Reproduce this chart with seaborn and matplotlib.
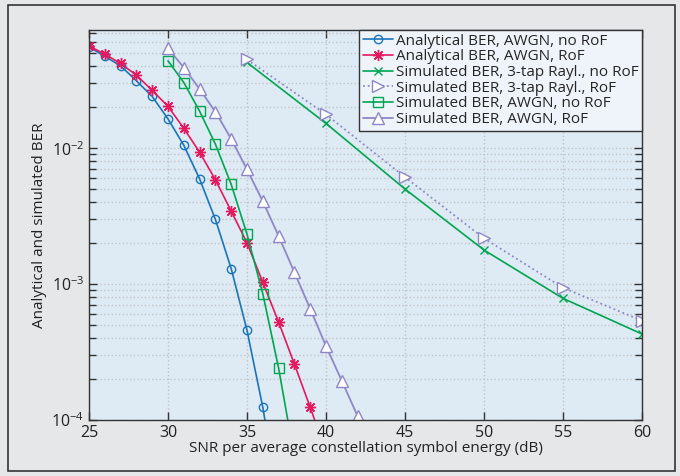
import matplotlib
matplotlib.use("Agg")
import numpy as np
import pandas as pd
import matplotlib.pyplot as plt
import seaborn as sns
from matplotlib.patches import Rectangle
from matplotlib.ticker import LogLocator, NullFormatter, MultipleLocator

# Analytical BER, AWGN, no RoF
snr_an_norof = list(range(25, 38))
ber_an_norof = [0.0556, 0.0474, 0.0403, 0.0313, 0.0240, 0.0164, 0.0105, 0.00594,
                0.00299, 0.00130, 0.000457, 0.000124, 0.000025]

# Analytical BER, AWGN, RoF
snr_an_rof = list(range(25, 41))
ber_an_rof = [0.0565, 0.0491, 0.0420, 0.0344, 0.0266, 0.0203, 0.0140, 0.00934,
              0.00585, 0.00344, 0.00201, 0.00103, 0.000526, 0.000258, 0.000124, 0.000058]

# Simulated BER, 3-tap Rayleigh
snr_ray = [35, 40, 45, 50, 55, 60]
ber_ray_norof = [0.0427, 0.0152, 0.00500, 0.00178, 0.000785, 0.000429]
ber_ray_rof = [0.0449, 0.0177, 0.00612, 0.00217, 0.000940, 0.000537]

# Simulated BER, AWGN
snr_sim_norof = list(range(30, 39))
ber_sim_norof = [0.0439, 0.0304, 0.0187, 0.0107, 0.00541, 0.00233, 0.000848,
                 0.000241, 0.000053]
snr_sim_rof = list(range(30, 43))
ber_sim_rof = [0.0541, 0.0392, 0.0272, 0.0185, 0.0117, 0.00697, 0.00406, 0.00226,
               0.00122, 0.000658, 0.000350, 0.000194, 0.000107]

labels = ["Analytical BER, AWGN, no RoF",
          "Analytical BER, AWGN, RoF",
          "Simulated BER, 3-tap Rayl., no RoF",
          "Simulated BER, 3-tap Rayl., RoF",
          "Simulated BER, AWGN, no RoF",
          "Simulated BER, AWGN, RoF"]

blue = "#1a75bc"
red = "#e5195e"
green = "#00a651"
purple = "#8e88c8"

sns.set_style("ticks")
plt.rcParams["font.family"] = ["Open Sans", "DejaVu Sans"]
plt.rcParams["mathtext.default"] = "regular"

fig = plt.figure(figsize=(6.8, 4.76), dpi=100, facecolor="#e6e7e8")
ax = fig.add_axes([89 / 680, 1 - 420 / 476, (642 - 89) / 680, (420 - 30) / 476])
ax.set_facecolor("#deeaf4")

series = [
    (snr_an_norof, ber_an_norof, labels[0], blue, "o", "none", 6, "-", 1.2),
    (snr_an_rof, ber_an_rof, labels[1], red, (8, 2, 0), red, 8, "-", 1.2),
    (snr_ray, ber_ray_norof, labels[2], green, "x", green, 6, "-", 1.2),
    (snr_ray, ber_ray_rof, labels[3], purple, ">", "white", 8, ":", 1.3),
    (snr_sim_norof, ber_sim_norof, labels[4], green, "s", "none", 7, "-", 1.2),
    (snr_sim_rof, ber_sim_rof, labels[5], purple, "^", "white", 8, "-", 1.3),
]

for x, y, lab, col, mk, mfc, ms, ls, lw in series:
    sns.lineplot(x=x, y=y, ax=ax, label=lab, color=col, marker=mk,
                 markerfacecolor=mfc, markeredgecolor=col, markeredgewidth=1.0,
                 markersize=ms, linestyle=ls, linewidth=lw, legend=False)

ax.set_yscale("log")
ax.set_xlim(25, 60)
ax.set_ylim(1e-4, 0.074)
ax.xaxis.set_major_locator(MultipleLocator(5))
ax.yaxis.set_major_locator(LogLocator(base=10, numticks=10))
ax.yaxis.set_minor_locator(LogLocator(base=10, subs=np.arange(2, 10), numticks=20))
ax.yaxis.set_minor_formatter(NullFormatter())

ax.grid(True, which="major", axis="x", linestyle=":", color="#c0c4c8", linewidth=1.0)
ax.grid(True, which="both", axis="y", linestyle=":", color="#c0c4c8", linewidth=1.0)

ax.tick_params(which="both", direction="in", top=True, right=True,
               color="#333333", labelsize=11.5, labelcolor="#222222")
ax.tick_params(which="major", length=6, width=1.0)
ax.tick_params(which="minor", length=5, width=1.0)
for sp in ax.spines.values():
    sp.set_color("#333333")
    sp.set_linewidth(1.0)

ax.set_xlabel("SNR per average constellation symbol energy (dB)", fontsize=11,
              color="#222222", labelpad=0)
ax.set_ylabel("Analytical and simulated BER", fontsize=11, color="#222222",
              labelpad=3)

leg = ax.legend(loc="upper right", borderaxespad=0, fontsize=11,
                handlelength=2.0, handletextpad=0.15, labelspacing=0.04,
                borderpad=0.25, frameon=True, fancybox=False, framealpha=1)
leg.get_frame().set_facecolor("#eef4fa")
leg.get_frame().set_edgecolor("#333333")
leg.get_frame().set_linewidth(1.0)

fig.add_artist(Rectangle((8 / 680, 1 - 471 / 476), (675 - 8) / 680, (471 - 5) / 476,
                         transform=fig.transFigure, fill=False,
                         edgecolor="#333333", linewidth=1.2))

fig.savefig("out.png", dpi=100, facecolor=fig.get_facecolor())
